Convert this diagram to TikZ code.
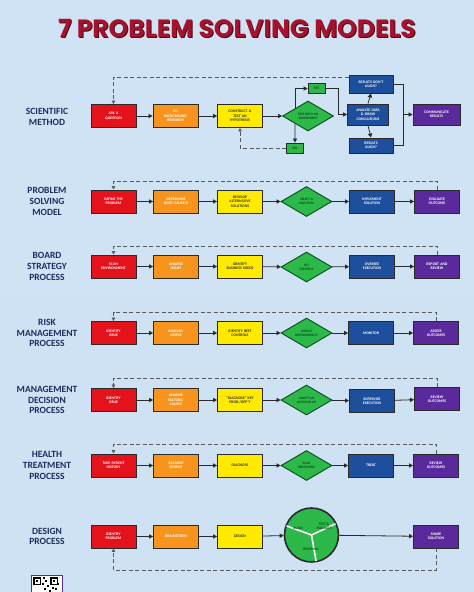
\documentclass[tikz,border=0pt]{standalone}
\usepackage{fontspec}
\usetikzlibrary{shapes.geometric,arrows.meta,calc}
\setmainfont{Carlito}
\newfontfamily\titlefont{Poppins}
\definecolor{bgtop}{HTML}{CFE3F5}
\definecolor{bgmid}{HTML}{E4F0FB}
\definecolor{bgbot}{HTML}{CFE2F3}
\definecolor{cred}{HTML}{E3121B}
\definecolor{corange}{HTML}{F7941D}
\definecolor{cyellow}{HTML}{FFEA00}
\definecolor{cgreen}{HTML}{2DB84A}
\definecolor{cblue}{HTML}{1D4F9C}
\definecolor{cpurple}{HTML}{5A2A9C}
\definecolor{navy}{HTML}{1B2D5E}
\definecolor{titlered}{HTML}{A5122E}
\definecolor{titleshadow}{HTML}{4A0812}
\definecolor{lnc}{HTML}{2A2A2A}
\definecolor{dgreen}{HTML}{0A4A1A}
\tikzset{
  box/.style={draw=lnc, line width=0.9pt, minimum width=45pt, minimum height=23pt,
    inner sep=0pt, align=center, text width=40pt,
    font=\bfseries\fontsize{3.8}{4.4}\selectfont},
  rbox/.style={box, fill=cred, text=white},
  obox/.style={box, fill=corange, text=white},
  ybox/.style={box, fill=cyellow, text=black!80},
  bbox/.style={box, fill=cblue, text=white},
  pbox/.style={box, fill=cpurple, text=white},
  gbox/.style={box, fill=cgreen, text=dgreen, minimum width=17pt, minimum height=10pt, text width=14pt},
  dmd/.style={diamond, draw=dgreen, line width=0.9pt, fill=cgreen, aspect=1.75,
    minimum width=51pt, minimum height=30pt, inner sep=0pt, align=center,
    text=dgreen, font=\bfseries\fontsize{3.4}{4}\selectfont},
  lbl/.style={align=center, text=navy, font=\bfseries\fontsize{9.5}{10.8}\selectfont},
  arr/.style={draw=lnc, line width=0.8pt, -{Triangle[length=4pt,width=4.2pt]}},
  dsh/.style={draw=black!65, line width=0.9pt, dash pattern=on 4pt off 2.5pt},
  darr/.style={dsh, -{Triangle[length=3.5pt,width=3.5pt]}}
}
\begin{document}
\begin{tikzpicture}[x=1pt,y=-1pt]
\useasboundingbox (0,0) rectangle (474,592);
\clip (0,0) rectangle (474,592);
\shade[top color=bgtop, middle color=bgmid, bottom color=bgbot] (0,0) rectangle (474,592);

% title
\node[font=\titlefont\bfseries\fontsize{25}{28}\selectfont, text=titleshadow] at (238,29.5) {7 PROBLEM SOLVING MODELS};
\node (title) [font=\titlefont\bfseries\fontsize{25}{28}\selectfont, text=titlered] at (237,28.5) {7 PROBLEM SOLVING MODELS};

% ---------- Scientific method ----------
\node (l1) [lbl] at (47,117) {SCIENTIFIC\\METHOD};
\node (q) [rbox] at (113.5,116) {ASK A\\QUESTION};
\node (r) [obox] at (175.5,116) {DO\\BACKGROUND\\RESEARCH};
\node (h) [ybox] at (240,116) {CONSTRUCT \&\\TEST AN\\HYPOTHESIS};
\node (d1) [dmd] at (308,116) {TEST WITH AN\\EXPERIMENT};
\node (yes) [gbox] at (316.5,88.5) {YES};
\node (no) [gbox] at (295,148) {NO};
\node (an) [bbox, minimum width=41pt, minimum height=21pt, text width=38pt] at (368,114.5) {ANALYSE DATA\\\& DRAW\\CONCLUSIONS};
\node (nd) [bbox, minimum width=44pt, minimum height=18pt] at (371,84) {RESULTS DON'T\\ALIGN?};
\node (al) [bbox, minimum width=44pt, minimum height=15pt] at (371,145.5) {RESULTS\\ALIGN?};
\node (cm) [pbox, minimum width=47pt, minimum height=21pt] at (436.5,114.5) {COMMUNICATE\\RESULTS};
\coordinate (j1) at (338,114.5);
\coordinate (j2) at (403,114.5);
\coordinate (t1) at (0,77);
\draw[arr] (q) -- (r);
\draw[arr] (r) -- (h);
\draw[arr] (h) -- (d1);
\draw[arr] (d1.north west) |- (yes.west);
\draw[arr] (d1.south west) -- (no.north);
\draw[arr] (yes.east) -| (j1) -- (an.west);
\draw[darr] (no.west) -| (h.south);
\draw[arr] (an.north) -- (nd.south);
\draw[arr] (an.south) -- (al.north);
\draw[lnc, line width=0.8pt] (nd.east) -| (j2);
\draw[lnc, line width=0.8pt] (al.east) -| (j2);
\draw[arr] (j2) -- (cm.west);
\draw[darr] (nd.west |- t1) -| (q.north);

% ---------- Problem solving model ----------
\node (l2) [lbl] at (47,201.5) {PROBLEM\\SOLVING\\MODEL};
\node (a1) [rbox] at (113.5,201.5) {DEFINE THE\\PROBLEM};
\node (a2) [obox] at (176,201.5) {DETERMINE\\ROOT CAUSE/S};
\node (a3) [ybox] at (240,201.5) {DEVELOP\\ALTERNATIVE\\SOLUTIONS};
\node (a4) [dmd] at (306.5,201.5) {SELECT A\\SOLUTION};
\node (a5) [bbox] at (372,201.5) {IMPLEMENT\\SOLUTION};
\node (a6) [pbox] at (437,201.5) {EVALUATE\\OUTCOME};
\coordinate (ta) at (0,181);
\draw[arr] (a1) -- (a2);
\draw[arr] (a2) -- (a3);
\draw[arr] (a3) -- (a4);
\draw[arr] (a4) -- (a5);
\draw[arr] (a5) -- (a6);
\draw[darr] (a6.north) -- (a6.north |- ta) -| (a1.north);

% ---------- Board strategy ----------
\node (l3) [lbl] at (47,266.5) {BOARD\\STRATEGY\\PROCESS};
\node (b1) [rbox] at (113.5,266.5) {SCAN\\ENVIRONMENT};
\node (b2) [obox] at (176,266.5) {ANALYSE\\ISSUES};
\node (b3) [ybox] at (240,266.5) {IDENTIFY\\BUSINESS NEEDS};
\node (b4) [dmd] at (306.5,267) {SET\\STRATEGY};
\node (b5) [bbox] at (372,266.5) {OVERSEE\\EXECUTION};
\node (b6) [pbox] at (437,266.5) {REPORT AND\\REVIEW};
\coordinate (tb) at (0,246);
\draw[arr] (b1) -- (b2);
\draw[arr] (b2) -- (b3);
\draw[arr] (b3) -- (b4);
\draw[arr] (b4) -- (b5);
\draw[arr] (b5) -- (b6);
\draw[darr] (b6.north) -- (b6.north |- tb) -| (b1.north);

% ---------- Risk management ----------
\node (l4) [lbl] at (47,333) {RISK\\MANAGEMENT\\PROCESS};
\node (c1) [rbox] at (113.5,333) {IDENTIFY\\ISSUE};
\node (c2) [obox] at (176,333) {ANALYSE/\\ASSESS};
\node (c3) [ybox] at (240,333) {IDENTIFY BEST\\CONTROLS};
\node (c4) [dmd] at (306.5,333) {ASSIGN\\RESPONSIBILITY};
\node (c5) [bbox] at (371,333) {MONITOR};
\node (c6) [pbox] at (436,333) {ASSESS\\OUTCOMES};
\coordinate (tc) at (0,312);
\draw[arr] (c1) -- (c2);
\draw[arr] (c2) -- (c3);
\draw[arr] (c3) -- (c4);
\draw[arr] (c4) -- (c5);
\draw[arr] (c5) -- (c6);
\draw[darr] (c6.north) -- (c6.north |- tc) -| (c1.north);

% ---------- Management decision ----------
\node (l5) [lbl] at (47,400) {MANAGEMENT\\DECISION\\PROCESS};
\node (e1) [rbox] at (113.5,400) {IDENTIFY\\ISSUE};
\node (e2) [obox] at (176,400) {ANALYSE\\FACTORS/\\CAUSES};
\node (e3) [ybox] at (240,400) {"DIAGNOSE" KEY\\PROB./OPP'Y};
\node (e4) [dmd] at (306.5,400) {ADOPT AN\\ACTION PLAN};
\node (e5) [bbox] at (372,401) {SUPERVISE\\EXECUTION};
\node (e6) [pbox] at (437,399) {REVIEW\\OUTCOMES};
\coordinate (te) at (0,378);
\draw[arr] (e1) -- (e2);
\draw[arr] (e2) -- (e3);
\draw[arr] (e3) -- (e4);
\draw[arr] (e4) -- (e5);
\draw[arr] (e5) -- (e6);
\draw[darr] (e6.north) -- (e6.north |- te) -| (e1.north);

% ---------- Health treatment ----------
\node (l6) [lbl] at (47,465.5) {HEALTH\\TREATMENT\\PROCESS};
\node (f1) [rbox] at (113.5,465.5) {TAKE PATIENT\\HISTORY};
\node (f2) [obox] at (176,465.5) {EXAMINE\\PATIENT};
\node (f3) [ybox] at (240,465.5) {DIAGNOSE};
\node (f4) [dmd] at (306.5,465.5) {PLAN\\TREATMENT};
\node (f5) [bbox] at (371,465.5) {TREAT};
\node (f6) [pbox] at (436,465.5) {REVIEW\\OUTCOMES};
\coordinate (tf) at (0,444);
\draw[arr] (f1) -- (f2);
\draw[arr] (f2) -- (f3);
\draw[arr] (f3) -- (f4);
\draw[arr] (f4) -- (f5);
\draw[arr] (f5) -- (f6);
\draw[darr] (f6.north) -- (f6.north |- tf) -| (f1.north);

% ---------- Design process ----------
\node (l7) [lbl] at (47,536.5) {DESIGN\\PROCESS};
\node (g1) [rbox] at (113.5,536.5) {IDENTIFY\\PROBLEM};
\node (g2) [obox] at (176,536.5) {BRAINSTORM};
\node (g3) [ybox] at (240,536.5) {DESIGN};
\node (cyc) [circle, draw=lnc, line width=1.6pt, fill=cgreen, minimum size=54pt, inner sep=0pt] at (311.5,535) {};
\draw[white, line width=1.6pt] (cyc.center) -- ++(80:26.5);
\draw[white, line width=1.6pt] (cyc.center) -- ++(200:26.5);
\draw[white, line width=1.6pt] (cyc.center) -- ++(-25:26.5);
\node[font=\bfseries\fontsize{3.6}{4.2}\selectfont, text=dgreen, align=center] at (298,528) {BUILD};
\node[font=\bfseries\fontsize{3.6}{4.2}\selectfont, text=dgreen, align=center] at (324,526) {TEST \&\\EVALUATE};
\node[font=\bfseries\fontsize{3.6}{4.2}\selectfont, text=dgreen, align=center] at (311,549) {REDESIGN};
\node (g5) [pbox] at (436,536.5) {SHARE\\SOLUTION};
\coordinate (tg) at (0,570);
\draw[arr] (g1) -- (g2);
\draw[arr] (g2) -- (g3);
\draw[arr] (g3) -- (cyc);
\draw[arr] (cyc) -- (g5);
\draw[darr] (g5.south) -- (g5.south |- tg) -| (g1.south);

% QR code
\node (qr) [draw=cpurple, line width=1.2pt, fill=white, minimum width=31pt, minimum height=30pt, anchor=north west, inner sep=0pt] at (30.5,574.5) {};
\foreach \a/\b in {33/577,50/577,33/594}{
  \fill[black] (\a,\b) rectangle ++(8,8);
  \fill[white] (\a+1.5,\b+1.5) rectangle ++(5,5);
  \fill[black] (\a+3,\b+3) rectangle ++(2,2);}
\foreach \a/\b in {43/577,45/580,42/583,47/585,52/587,55/588,44/588,49/590,57/583}{
  \fill[black] (\a,\b) rectangle ++(2,2);}
\end{tikzpicture}
\end{document}
